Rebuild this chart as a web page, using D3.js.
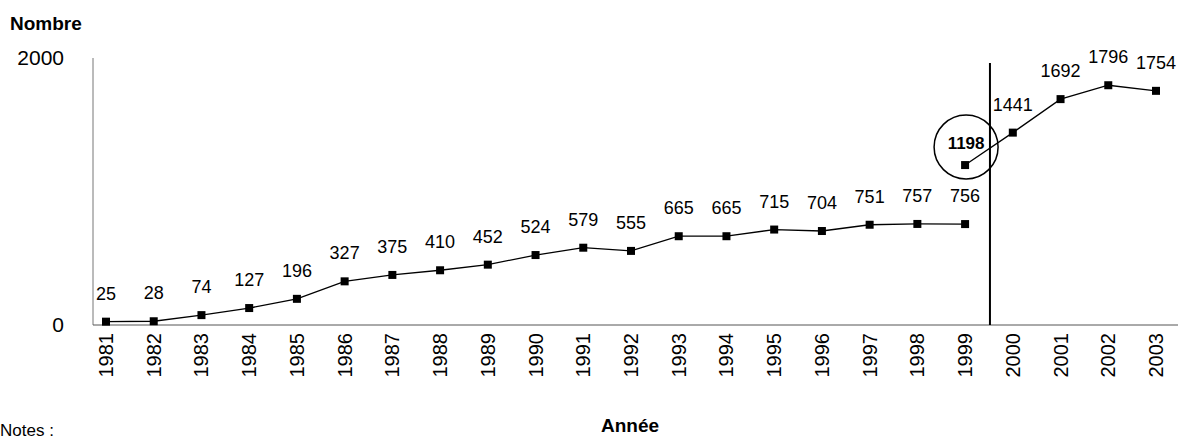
<!DOCTYPE html>
<html><head><meta charset="utf-8">
<script src="https://cdn.jsdelivr.net/npm/d3@7"></script>
<style>body{margin:0;background:#fff}text{font-family:"Liberation Sans",Arial,sans-serif}</style>
</head><body><svg id="c" width="1182" height="438"></svg>
<script>
var years = d3.range(1981, 2004).map(String);
var valuesOld = [25, 28, 74, 127, 196, 327, 375, 410, 452, 524, 579, 555, 665, 665, 715, 704, 751, 757, 756];
var yearsNew = ["1999", "2000", "2001", "2002", "2003"];
var valuesNew = [1198, 1441, 1692, 1796, 1754];
var yTicks = [0, 2000];

var svg = d3.select("#c");
var x = d3.scalePoint().domain(years).range([106, 1156]);
var y = d3.scaleLinear().domain([0, 2000]).range([325, 58]);

svg.append("line").attr("x1", 93).attr("x2", 93).attr("y1", 58).attr("y2", 325).attr("stroke", "#777");
svg.append("line").attr("x1", 93).attr("x2", 1178).attr("y1", 325).attr("y2", 325).attr("stroke", "#555");

yTicks.forEach(function (t) {
    svg.append("text").attr("x", 64).attr("y", y(t) + 7).attr("text-anchor", "end")
        .attr("font-size", 21).text(t);
});

years.forEach(function (yr) {
    svg.append("text").attr("transform", "translate(" + (x(yr) + 7) + ",333) rotate(-90)")
        .attr("text-anchor", "end").attr("font-size", 20).text(yr);
});

// separator between 1999 and 2000
var sep = (x("1999") + x("2000")) / 2 + 1;
svg.append("line").attr("x1", sep).attr("x2", sep).attr("y1", 63).attr("y2", 325)
    .attr("stroke", "#000").attr("stroke-width", 2);

function series(ys, vs, bold) {
    var pts = ys.map(function (d, i) { return [x(d), y(vs[i])]; });
    svg.append("path").attr("d", d3.line()(pts)).attr("fill", "none").attr("stroke", "#000").attr("stroke-width", 1.3);
    pts.forEach(function (p, i) {
        svg.append("rect").attr("x", p[0] - 4).attr("y", p[1] - 4).attr("width", 8).attr("height", 8).attr("fill", "#000");
        var b = bold && i === 0;
        svg.append("text").attr("x", p[0] + (b ? 1 : 0)).attr("y", p[1] - (b ? 16 : 22))
            .attr("text-anchor", "middle").attr("font-size", b ? 17 : 18)
            .attr("font-weight", b ? "bold" : "normal").text(vs[i]);
    });
}
series(years.slice(0, valuesOld.length), valuesOld, false);
series(yearsNew, valuesNew, true);

svg.append("circle").attr("cx", x("1999") + 1).attr("cy", 147).attr("r", 32)
    .attr("fill", "none").attr("stroke", "#000").attr("stroke-width", 1.5);

svg.append("text").attr("x", 10).attr("y", 30).attr("font-size", 19).attr("font-weight", "bold").text("Nombre");
svg.append("text").attr("x", 630).attr("y", 432).attr("text-anchor", "middle").attr("font-size", 19).attr("font-weight", "bold").text("Année");
svg.append("text").attr("x", 0).attr("y", 436).attr("font-size", 17).text("Notes :");
</script></body></html>
